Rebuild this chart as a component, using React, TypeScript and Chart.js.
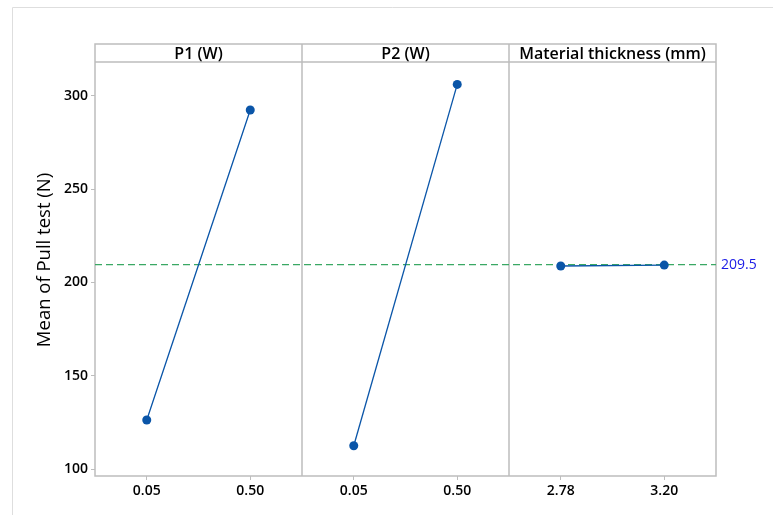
import React, { useEffect, useRef } from "react";
import { Chart, registerables } from "chart.js";

Chart.register(...registerables);

// ---- data ----
const panelTitles = ["P1 (W)", "P2 (W)", "Material thickness (mm)"];
const levelLabels = ["0.05", "0.50", "0.05", "0.50", "2.78", "3.20"];
const p1Means = [126.4, 292.3];
const p2Means = [112.6, 306.0];
const thicknessMeans = [208.8, 209.3];
const grandMean = 209.5;
const yTicks = [100, 150, 200, 250, 300];
const yTitle = "Mean of Pull test (N)";
const yMin = 96.4;
const yMax = 318;

const FONT = "'Open Sans', 'Noto Sans', sans-serif";
const LINE = "#0a55a8";
const FRAME = "#bdbdbd";

const panelSeries = [p1Means, p2Means, thicknessMeans];

const framePlugin = {
  id: "frames",
  beforeDraw(chart: any) {
    const ctx = chart.ctx;
    ctx.save();
    ctx.strokeStyle = "#dedede";
    ctx.lineWidth = 1;
    ctx.beginPath();
    ctx.moveTo(12.5, 515);
    ctx.lineTo(12.5, 7.5);
    ctx.lineTo(773, 7.5);
    ctx.stroke();
    ctx.restore();
  },
  beforeDatasetsDraw(chart: any) {
    const ctx = chart.ctx;
    const ca = chart.chartArea;
    const xs = chart.scales.x;
    const headerTop = 44;
    ctx.save();
    ctx.strokeStyle = FRAME;
    ctx.lineWidth = 1.5;
    ctx.strokeRect(ca.left, headerTop, ca.right - ca.left, ca.bottom - headerTop);
    ctx.beginPath();
    ctx.moveTo(ca.left, ca.top);
    ctx.lineTo(ca.right, ca.top);
    for (let i = 1; i < panelTitles.length; i++) {
      const px = xs.getPixelForValue(i * 2);
      ctx.moveTo(px, headerTop);
      ctx.lineTo(px, ca.bottom);
    }
    ctx.stroke();
    // panel titles
    ctx.fillStyle = "#000";
    ctx.font = `600 16px ${FONT}`;
    ctx.textAlign = "center";
    ctx.textBaseline = "middle";
    panelTitles.forEach((t, i) => {
      const cx = (xs.getPixelForValue(i * 2) + xs.getPixelForValue(i * 2 + 2)) / 2;
      ctx.fillText(t, cx, (headerTop + ca.top) / 2 + 1);
    });
    // y title
    ctx.save();
    ctx.translate(45, 260);
    ctx.rotate(-Math.PI / 2);
    ctx.font = `18.5px ${FONT}`;
    ctx.fillText(yTitle, 0, 0);
    ctx.restore();
    // mean label
    const ys = chart.scales.y;
    ctx.fillStyle = "#1a1ae6";
    ctx.font = `14px ${FONT}`;
    ctx.textAlign = "left";
    ctx.fillText(String(grandMean), ca.right + 5, ys.getPixelForValue(grandMean));
    ctx.restore();
  },
};

export default function App() {
  const ref = useRef<HTMLCanvasElement | null>(null);
  useEffect(() => {
    if (!ref.current) return;
    const datasets: any[] = panelSeries.map((vals, i) => ({
      data: vals.map((v, j) => ({ x: i * 2 + 0.5 + j, y: v })),
      borderColor: LINE,
      backgroundColor: LINE,
      borderWidth: 1.3,
      pointRadius: 4.5,
      pointBorderWidth: 0,
      pointBackgroundColor: LINE,
      showLine: true,
    }));
    datasets.push({
      data: [
        { x: 0, y: grandMean },
        { x: panelTitles.length * 2, y: grandMean },
      ],
      borderColor: "#3aa864",
      borderWidth: 1.3,
      borderDash: [7, 4],
      pointRadius: 0,
      showLine: true,
    });
    const chart = new Chart(ref.current, {
      type: "scatter",
      data: { datasets },
      plugins: [framePlugin],
      options: {
        animation: false,
        responsive: false,
        devicePixelRatio: 1,
        layout: { padding: { top: 62, right: 57, left: 0, bottom: 0 } },
        plugins: { legend: { display: false }, tooltip: { enabled: false } },
        scales: {
          x: {
            type: "linear",
            min: 0,
            max: panelTitles.length * 2,
            afterFit: (s: any) => {
              s.height = 39;
            },
            afterBuildTicks: (s: any) => {
              s.ticks = levelLabels.map((_, k) => ({ value: Math.floor(k / 2) * 2 + 0.5 + (k % 2) }));
            },
            ticks: {
              autoSkip: false,
              maxRotation: 0,
              padding: 3,
              color: "#000",
              font: { family: FONT, size: 14, weight: "600" },
              callback: (v: any) => {
                const val = Number(v);
                const k = Math.floor(val / 2) * 2 + (val % 2 > 1 ? 1 : 0);
                return levelLabels[k];
              },
            },
            grid: { drawOnChartArea: false, drawTicks: true, tickLength: 4, color: FRAME, tickColor: FRAME },
            border: { display: false },
          },
          y: {
            min: yMin,
            max: yMax,
            afterFit: (s: any) => {
              s.width = 95;
            },
            afterBuildTicks: (s: any) => {
              s.ticks = yTicks.map((v) => ({ value: v }));
            },
            ticks: {
              padding: 3,
              color: "#000",
              font: { family: FONT, size: 14, weight: "600" },
            },
            grid: { drawOnChartArea: false, drawTicks: true, tickLength: 4, color: FRAME, tickColor: FRAME },
            border: { display: false },
          },
        },
      },
    });
    return () => chart.destroy();
  }, []);
  return (
    <div style={{ position: "absolute", left: 0, top: 0, width: 773, height: 515, background: "#fff" }}>
      <canvas ref={ref} width={773} height={515} />
    </div>
  );
}
